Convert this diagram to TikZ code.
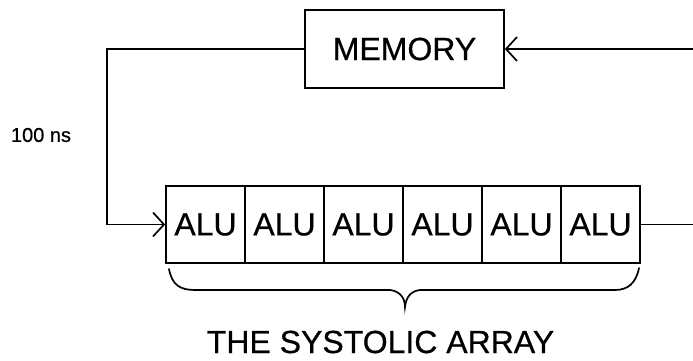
\documentclass[tikz,border=0pt]{standalone}
\usepackage{fontspec}
\setmainfont{Liberation Sans}[FakeBold=0.6]
\usetikzlibrary{arrows.meta}
\begin{document}
\begin{tikzpicture}[x=1pt,y=-1pt,
  wire/.style={line width=1.7pt, line join=miter},
  barb/.style={-{Straight Barb[length=11pt,width=24pt,line width=1.7pt]}},
  membox/.style={draw, line width=1.7pt, minimum width=199pt, minimum height=78pt, inner sep=0pt, font=\fontsize{32}{36}\selectfont},
  alubox/.style={draw, line width=1.7pt, minimum width=79pt, minimum height=77pt, inner sep=0pt, font=\fontsize{32}{36}\selectfont},
  bigtext/.style={font=\fontsize{32}{36}\selectfont, inner sep=0pt},
  smalltext/.style={font=\fontsize{20}{24}\selectfont, inner sep=0pt}]
\useasboundingbox (0,0) rectangle (693,361);
\node[membox] (mem) at (404.5,49) {MEMORY};
\foreach \i in {1,...,6} {
  \node[alubox] (alu\i) at ({166+79*(\i-0.5)},224.5) {ALU};
}
\coordinate (tl) at (107,49);
\coordinate (bl) at (107,224.5);
\coordinate (rin) at (693,49);
\coordinate (rout) at (693,224.5);
\draw[wire] (mem.west) -- (tl) -- (bl);
\draw[wire,barb] (bl) -- (alu1.west);
\draw[wire,barb] (rin) -- (mem.east);
\draw[wire] (alu6.east) -- (rout);
\node[smalltext] (ns) at (41,135) {100 ns};
% brace
\coordinate (btip) at (405,307);
\draw[wire, line cap=round] (169,269) .. controls (172,285) and (180,290) .. (195,290)
  -- (390,290) .. controls (399,291) and (405,297) .. (btip)
  .. controls (406,297) and (411,291) .. (420,290)
  -- (615,290) .. controls (628,290) and (636,283) .. (639,268);
\node[bigtext] (sys) at (380.5,342) {THE SYSTOLIC ARRAY};
\end{tikzpicture}
\end{document}
